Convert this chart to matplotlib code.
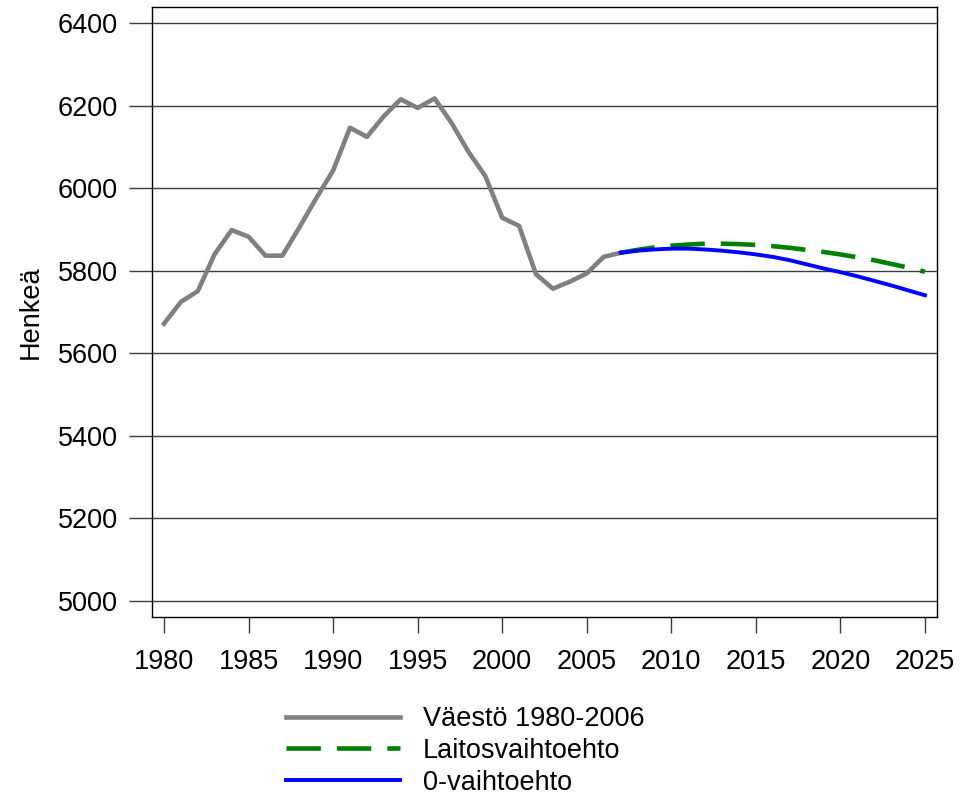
import matplotlib
matplotlib.use("Agg")
import matplotlib.pyplot as plt

plt.rcParams['font.family'] = ['Liberation Sans', 'DejaVu Sans']

# Population history and the two projection alternatives
years_hist = list(range(1980, 2008))
pop_hist = [5672, 5725, 5751, 5841, 5899, 5883, 5837, 5837, 5905, 5976,
            6043, 6147, 6125, 6175, 6216, 6195, 6218, 6159, 6089, 6030,
            5929, 5909, 5792, 5757, 5774, 5794, 5834, 5844]

years_proj = list(range(2007, 2026))
pop_laitos = [5844, 5851, 5857, 5861, 5864, 5866, 5866, 5865, 5863, 5860,
              5856, 5851, 5846, 5840, 5833, 5826, 5817, 5808, 5798]
pop_zero = [5844, 5849, 5852, 5854, 5854, 5852, 5849, 5845, 5840, 5834,
            5826, 5816, 5806, 5797, 5787, 5776, 5765, 5753, 5741]

labels = ['Väestö 1980-2006', 'Laitosvaihtoehto', '0-vaihtoehto']
xticks = list(range(1980, 2030, 5))
yticks = list(range(5000, 6600, 200))

fig = plt.figure(figsize=(9.6, 7.98), dpi=100)
ax = fig.add_axes([0.1583, 0.2272, 0.8177, 0.7637])

grid_col = '#3c3c3c'
for y in yticks:
    ax.axhline(y, color=grid_col, lw=1.0, zorder=1)

h1, = ax.plot(years_hist, pop_hist, color='#808080', lw=3.3, zorder=3)
h2, = ax.plot(years_proj, pop_laitos, color='#008000', lw=3.3, zorder=4,
              dashes=(7.5, 3.5))
h3, = ax.plot(years_proj, pop_zero, color='#0000ff', lw=2.8, zorder=5)

ax.set_xlim(1979.29, 2025.71)
ax.set_ylim(4962, 6439)
ax.set_xticks(xticks)
ax.set_yticks(yticks)

ax.tick_params(axis='y', length=16.6, width=1.0, color=grid_col, pad=8,
               labelsize=19.5)
ax.tick_params(axis='x', length=11.5, width=1.0, color=grid_col, pad=12,
               labelsize=19.5)
for s in ax.spines.values():
    s.set_linewidth(1.0)
    s.set_color('black')

ax.set_ylabel('Henkeä', fontsize=19.5, labelpad=10)

fig.legend([h1, h2, h3], labels, loc='upper left',
           bbox_to_anchor=(286 / 960, 1 - 706 / 798), frameon=False,
           fontsize=19.5, handlelength=4.2, handletextpad=0.85,
           labelspacing=0.22, borderpad=0, borderaxespad=0)

fig.savefig('out.png', dpi=100)
